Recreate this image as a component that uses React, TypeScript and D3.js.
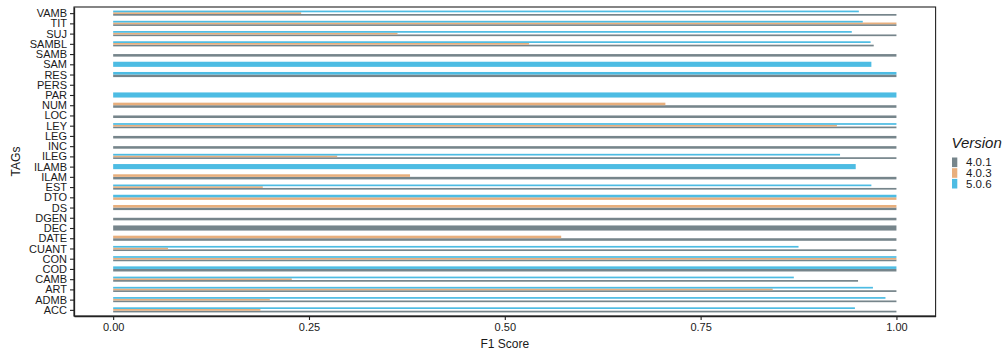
import { useEffect, useRef } from 'react';
import * as d3 from 'd3';

// tags, bottom to top
const tags = [
  'ACC', 'ADMB', 'ART', 'CAMB', 'COD', 'CON', 'CUANT', 'DATE', 'DEC', 'DGEN',
  'DS', 'DTO', 'EST', 'ILAM', 'ILAMB', 'ILEG', 'INC', 'LEG', 'LEY', 'LOC',
  'NUM', 'PAR', 'PERS', 'RES', 'SAM', 'SAMB', 'SAMBL', 'SUJ', 'TIT', 'VAMB'
];

const versions = ['4.0.1', '4.0.3', '5.0.6'];
const versionColors = ['#76858b', '#e8af7d', '#4dbce3'];

// F1 per tag (null = version not evaluated for that tag)
const v401 = [
  1.0, 1.0, 1.0, 0.951, 1.0, 1.0, 1.0, 1.0, 1.0, 1.0,
  1.0, null, 1.0, 1.0, null, 1.0, 1.0, 1.0, 1.0, 1.0,
  1.0, null, 0, 1.0, null, 1.0, 0.971, 1.0, 1.0, 1.0
];
const v403 = [
  0.188, 0.2, 0.842, 0.228, null, 1.0, 0.07, 0.572, null, null,
  1.0, 1.0, 0.191, 0.379, null, 0.286, null, null, 0.924, null,
  0.705, null, null, null, null, null, 0.531, 0.363, 1.0, 0.24
];
const v506 = [
  0.947, 0.986, 0.97, 0.869, 1.0, 1.0, 0.875, null, null, 0,
  null, 1.0, 0.968, null, 0.948, 0.928, 0, 0, 1.0, 0,
  null, 1.0, null, 1.0, 0.968, 0, 0.967, 0.943, 0.957, 0.952
];

const xTicks = [0, 0.25, 0.5, 0.75, 1];

const W = 1007;
const H = 354;
const panel = { left: 74, top: 7, right: 935.6, bottom: 316 };
const font = '"Liberation Sans", Arial, sans-serif';

const App = () => {
  const ref = useRef<SVGSVGElement>(null);

  useEffect(() => {
    const svg = d3.select(ref.current);
    svg.selectAll('*').remove();

    const series = [v401, v403, v506];

    const x = d3.scaleLinear()
      .domain([-0.05, 1.05])
      .range([panel.left, panel.right]);

    // bottom-most tag at the bottom of the panel
    const y = d3.scalePoint<string>()
      .domain(tags.slice().reverse())
      .range([panel.top, panel.bottom])
      .padding(0.6);
    const barW = y.step() * 0.5;

    // dodged bars
    const rows: { tag: string; v: number; vi: number; j: number; k: number }[] = [];
    tags.forEach((tag, ti) => {
      const present = series
        .map((s, vi) => ({ vi, v: s[ti] }))
        .filter(d => d.v !== null) as { vi: number; v: number }[];
      present.forEach((d, j) => rows.push({ tag, v: d.v, vi: d.vi, j, k: present.length }));
    });

    svg.append('g')
      .selectAll('rect')
      .data(rows)
      .enter()
      .append('rect')
      .attr('x', x(0))
      .attr('width', d => Math.max(0, x(d.v) - x(0)))
      .attr('y', d => (y(d.tag) as number) + barW / 2 - (d.j + 1) * barW / d.k)
      .attr('height', d => barW / d.k)
      .attr('fill', d => versionColors[d.vi]);

    // panel border
    svg.append('rect')
      .attr('x', panel.left)
      .attr('y', panel.top)
      .attr('width', panel.right - panel.left)
      .attr('height', panel.bottom - panel.top)
      .attr('fill', 'none')
      .attr('stroke', '#222')
      .attr('stroke-width', 1.1);

    const xAxis = svg.append('g')
      .attr('transform', `translate(0,${panel.bottom})`)
      .call(d3.axisBottom(x).tickValues(xTicks).tickFormat(d3.format('.2f')).tickSize(4).tickSizeOuter(0).tickPadding(3));

    const yAxis = svg.append('g')
      .attr('transform', `translate(${panel.left},0)`)
      .call(d3.axisLeft(y).tickSize(4).tickSizeOuter(0).tickPadding(3));

    [xAxis, yAxis].forEach(g => {
      g.select('.domain').attr('stroke', '#222').attr('stroke-width', 1.3);
      g.selectAll('.tick line').attr('stroke', '#222').attr('stroke-width', 1.1);
      g.selectAll('.tick text')
        .attr('fill', '#1a1a1a')
        .style('font-family', font)
        .style('font-size', '11px');
    });

    // axis titles
    svg.append('text')
      .attr('x', (panel.left + panel.right) / 2)
      .attr('y', 348)
      .attr('text-anchor', 'middle')
      .style('font-family', font)
      .style('font-size', '12px')
      .attr('fill', '#1a1a1a')
      .text('F1 Score');

    svg.append('text')
      .attr('transform', `translate(20,${(panel.top + panel.bottom) / 2}) rotate(-90)`)
      .attr('text-anchor', 'middle')
      .style('font-family', font)
      .style('font-size', '12px')
      .attr('fill', '#1a1a1a')
      .text('TAGs');

    // legend
    const lg = svg.append('g').attr('transform', 'translate(952,0)');
    lg.append('text')
      .attr('x', -0.5)
      .attr('y', 147.5)
      .style('font-family', font)
      .style('font-size', '15px')
      .style('font-style', 'italic')
      .attr('fill', '#1a1a1a')
      .text('Version');

    const item = lg.selectAll('g.item')
      .data(versions)
      .enter()
      .append('g')
      .attr('class', 'item')
      .attr('transform', (_, i) => `translate(0,${157.5 + i * 10.7})`);
    item.append('rect')
      .attr('width', 5.3)
      .attr('height', 9.6)
      .attr('fill', (_, i) => versionColors[i]);
    item.append('text')
      .attr('x', 14)
      .attr('y', 4.8)
      .attr('dy', '0.35em')
      .style('font-family', font)
      .style('font-size', '11.5px')
      .attr('fill', '#1a1a1a')
      .text(d => d);
  }, []);

  return (
    <svg
      ref={ref}
      width={W}
      height={H}
      style={{ position: 'absolute', left: 0, top: 0, background: 'white' }}
    />
  );
};

export default App;
